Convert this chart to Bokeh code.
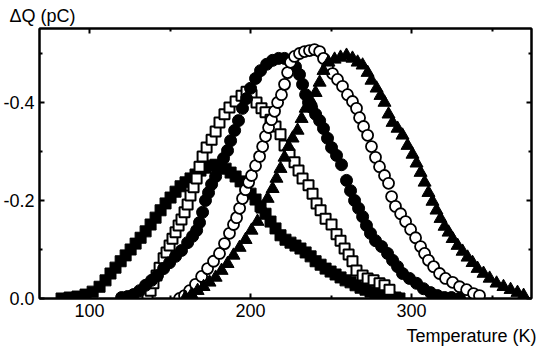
from bokeh.plotting import figure
from bokeh.models import (Range1d, FixedTicker, LinearAxis, Title, PrintfTickFormatter,
                          CustomJSTickFormatter)
from bokeh.embed import file_html
from bokeh.resources import INLINE

# Series A: filled squares
ta = [82.6, 87.6, 92.5, 97.5, 101.9, 106.2, 109.9, 113.0, 116.1, 119.3, 122.4, 125.5, 128.6, 131.7,
      134.8, 137.9, 141.0, 144.1, 147.2, 150.3, 153.4, 156.5, 159.6, 162.7, 165.8, 168.9, 172.0, 175.2,
      178.3, 181.4, 184.5, 187.6, 190.7, 193.8, 196.9, 200.0, 203.1, 206.2, 209.3, 212.4, 215.5, 218.6,
      221.7, 224.8, 227.9, 231.0, 234.2, 237.3, 240.4, 243.5, 246.6, 249.7, 252.8, 255.9, 259.0, 262.1,
      265.2, 268.3, 271.4, 274.5, 277.6, 280.7, 283.8, 286.9, 290.0, 292.5]
qa = [0.000, -0.002, -0.004, -0.008, -0.014, -0.024, -0.037, -0.051, -0.063, -0.076, -0.088, -0.100,
      -0.112, -0.124, -0.137, -0.151, -0.165, -0.180, -0.194, -0.206, -0.218, -0.229, -0.237, -0.245,
      -0.253, -0.261, -0.267, -0.271, -0.273, -0.269, -0.265, -0.257, -0.249, -0.239, -0.227, -0.214,
      -0.202, -0.188, -0.173, -0.157, -0.143, -0.129, -0.120, -0.114, -0.108, -0.102, -0.094, -0.086,
      -0.076, -0.069, -0.061, -0.055, -0.049, -0.043, -0.037, -0.033, -0.027, -0.022, -0.018, -0.014,
      -0.010, -0.006, -0.004, -0.002, -0.002, 0.000]

# Series B: open squares
tb = [136.0, 137.9, 139.7, 141.6, 143.5, 146.0, 147.8, 149.7, 151.5, 153.4, 155.3, 157.1, 159.0, 160.9,
      162.7, 164.6, 166.5, 168.3, 170.2, 172.7, 175.8, 178.3, 180.7, 183.8, 186.9, 190.7, 194.4, 197.5,
      200.6, 203.7, 206.8, 209.3, 212.4, 215.5, 218.6, 221.1, 224.2, 227.3, 229.8, 232.3, 236.0, 238.5,
      241.0, 243.5, 246.6, 250.3, 253.4, 255.9, 258.4, 260.9, 263.3, 265.8, 269.6, 272.7, 276.4, 280.1,
      283.2, 286.3]
qb = [-0.004, -0.016, -0.031, -0.047, -0.063, -0.082, -0.094, -0.108, -0.122, -0.135, -0.149, -0.161,
      -0.176, -0.192, -0.210, -0.227, -0.245, -0.269, -0.290, -0.308, -0.324, -0.341, -0.359, -0.376,
      -0.390, -0.402, -0.414, -0.422, -0.416, -0.400, -0.388, -0.380, -0.365, -0.351, -0.335, -0.312,
      -0.294, -0.278, -0.261, -0.245, -0.231, -0.214, -0.194, -0.180, -0.163, -0.151, -0.131, -0.118,
      -0.102, -0.090, -0.076, -0.057, -0.047, -0.041, -0.037, -0.031, -0.027, -0.018]

# Series C: filled circles
tc = [119.9, 123.6, 127.3, 131.1, 134.8, 138.5, 142.2, 146.0, 149.7, 153.4, 157.1, 160.9, 164.0, 166.5,
      168.3, 170.2, 172.0, 173.9, 175.8, 178.3, 180.7, 183.2, 185.7, 187.6, 190.1, 192.5, 195.0, 197.5,
      200.0, 203.1, 206.2, 210.0, 213.7, 217.4, 221.1, 224.8, 227.9, 230.4, 232.3, 234.2, 236.0, 237.9,
      240.4, 242.9, 245.3, 247.8, 250.3, 253.4, 256.5, 259.6, 262.1, 264.6, 267.1, 269.6, 272.0, 274.5,
      277.6, 281.4, 285.1, 288.2, 291.3, 294.4, 298.7, 303.1, 307.4, 311.8, 316.1, 320.5, 324.8, 329.8]
qc = [-0.002, -0.004, -0.008, -0.016, -0.027, -0.037, -0.047, -0.061, -0.073, -0.086, -0.098, -0.114,
      -0.127, -0.139, -0.155, -0.176, -0.200, -0.216, -0.233, -0.249, -0.269, -0.286, -0.302, -0.322,
      -0.343, -0.363, -0.388, -0.408, -0.429, -0.449, -0.465, -0.478, -0.486, -0.490, -0.490, -0.484,
      -0.473, -0.457, -0.437, -0.416, -0.400, -0.390, -0.376, -0.363, -0.347, -0.327, -0.308, -0.292,
      -0.273, -0.241, -0.220, -0.200, -0.184, -0.167, -0.149, -0.133, -0.118, -0.106, -0.092, -0.078,
      -0.065, -0.051, -0.041, -0.031, -0.020, -0.012, -0.006, -0.002, -0.002, 0.000]

# Series D: open circles
td = [155.9, 159.0, 162.1, 165.8, 169.6, 173.3, 177.0, 180.7, 183.8, 186.9, 189.4, 191.3, 193.2, 195.0,
      196.9, 198.8, 200.6, 203.1, 205.6, 207.5, 209.3, 211.2, 213.0, 214.9, 216.8, 219.2, 221.1, 223.0,
      224.8, 227.3, 230.4, 233.5, 236.6, 239.7, 242.9, 245.3, 247.8, 250.9, 254.0, 257.1, 260.2, 263.3,
      265.8, 267.7, 270.2, 272.7, 275.1, 277.6, 280.1, 283.2, 285.7, 287.6, 290.0, 293.2, 296.3, 299.4,
      302.5, 305.6, 308.1, 310.5, 313.7, 317.4, 321.1, 325.5, 329.8, 334.2, 338.5, 342.2]
qd = [0.000, -0.006, -0.016, -0.029, -0.045, -0.061, -0.076, -0.092, -0.112, -0.133, -0.151, -0.165,
      -0.184, -0.204, -0.222, -0.237, -0.251, -0.271, -0.290, -0.310, -0.331, -0.349, -0.365, -0.382,
      -0.400, -0.416, -0.437, -0.461, -0.482, -0.494, -0.500, -0.504, -0.506, -0.508, -0.504, -0.490,
      -0.473, -0.459, -0.447, -0.433, -0.416, -0.402, -0.388, -0.369, -0.351, -0.333, -0.310, -0.288,
      -0.269, -0.251, -0.235, -0.208, -0.188, -0.173, -0.157, -0.141, -0.124, -0.106, -0.092, -0.078,
      -0.065, -0.051, -0.041, -0.033, -0.024, -0.018, -0.010, -0.006]

# Series E: filled triangles
te = [159.6, 163.4, 167.1, 170.8, 174.5, 178.3, 182.0, 185.7, 189.4, 193.2, 196.9, 200.6, 204.3, 207.5,
      210.6, 213.7, 216.1, 218.6, 221.1, 223.6, 226.1, 229.2, 231.7, 234.2, 237.3, 240.4, 242.9, 245.3,
      248.4, 252.2, 255.9, 259.6, 263.3, 266.5, 269.6, 272.7, 275.1, 278.3, 280.7, 283.2, 285.7, 288.2,
      291.3, 294.4, 297.5, 300.6, 303.1, 305.6, 308.1, 310.5, 313.0, 315.5, 318.0, 320.5, 323.0, 325.5,
      328.6, 331.7, 334.8, 337.9, 341.0, 344.7, 348.5, 352.8, 357.1, 361.5, 365.8, 369.6]
qe = [-0.002, -0.008, -0.016, -0.024, -0.033, -0.043, -0.057, -0.071, -0.088, -0.104, -0.120, -0.139,
      -0.157, -0.182, -0.204, -0.224, -0.245, -0.265, -0.288, -0.310, -0.327, -0.343, -0.367, -0.388,
      -0.404, -0.420, -0.441, -0.465, -0.482, -0.488, -0.492, -0.496, -0.490, -0.482, -0.476, -0.461,
      -0.445, -0.429, -0.414, -0.400, -0.376, -0.359, -0.347, -0.333, -0.312, -0.294, -0.276, -0.257,
      -0.237, -0.216, -0.198, -0.180, -0.163, -0.147, -0.135, -0.122, -0.108, -0.096, -0.084, -0.073,
      -0.061, -0.051, -0.041, -0.031, -0.024, -0.018, -0.012, -0.006]

x_major = [100, 200, 300]
x_minor = [150, 250, 350]
y_major = [0.0, -0.2, -0.4]
y_minor = [-0.1, -0.3, -0.5]

FONT = "Liberation Sans"
FS = "18px"

p = figure(frame_width=492, frame_height=270, output_backend="svg", toolbar_location=None,
           x_range=Range1d(68.9, 374.5), y_range=Range1d(0.0, -0.551),
           min_border_left=32, min_border_right=6, min_border_top=20, min_border_bottom=50,
           background_fill_color="white", border_fill_color="white")
p.xgrid.visible = False
p.ygrid.visible = False
p.outline_line_color = "black"
p.outline_line_width = 2
p.outline_line_alpha = 1.0

def style(ax, ticks, minors, show_labels):
    ax.ticker = FixedTicker(ticks=ticks, minor_ticks=minors)
    ax.axis_line_color = "black"
    ax.axis_line_width = 2
    ax.major_tick_in = 5
    ax.major_tick_out = 0
    ax.minor_tick_in = 3
    ax.minor_tick_out = 0
    ax.major_tick_line_width = 2
    ax.minor_tick_line_width = 2
    ax.major_tick_line_color = "black"
    ax.minor_tick_line_color = "black"
    ax.major_label_text_font = FONT
    ax.major_label_text_color = "black"
    if show_labels:
        ax.major_label_text_font_size = FS
        ax.major_label_standoff = 5
    else:
        ax.formatter = CustomJSTickFormatter(code="return ''")
        ax.major_label_text_font_size = "0px"
        ax.major_label_standoff = 0

style(p.xaxis[0], x_major, x_minor, True)
style(p.yaxis[0], y_major, y_minor, True)
p.yaxis[0].formatter = PrintfTickFormatter(format="%.1f")

top = LinearAxis()
style(top, x_major, x_minor, False)
p.add_layout(top, "above")
right = LinearAxis()
style(right, y_major, y_minor, False)
p.add_layout(right, "right")

p.title.text = "\u0394Q (pC)"
p.title.align = "left"
p.title.offset = -30
p.title.text_font = FONT
p.title.text_font_size = FS
p.title.text_font_style = "normal"
p.title.text_color = "black"
p.title.standoff = 6
p.title.text_line_height = 1.0

xl = Title(text="Temperature (K)", align="right", offset=-5, text_font=FONT, text_font_size=FS,
           text_font_style="normal", text_color="black", standoff=8, text_line_height=1.0)
p.add_layout(xl, "below")

p.scatter(ta, qa, marker="square", size=11, fill_color="black", line_color="black", line_width=1)
p.scatter(tb, qb, marker="square", size=10, fill_color="white", line_color="black", line_width=2)
p.scatter(tc, qc, marker="circle", size=12, fill_color="black", line_color="black", line_width=1)
p.scatter(td, qd, marker="circle", size=11, fill_color="white", line_color="black", line_width=1.8)
p.scatter(te, qe, marker="triangle", size=13, fill_color="black", line_color="black", line_width=1)

open("out.html", "w").write(file_html(p, INLINE))
